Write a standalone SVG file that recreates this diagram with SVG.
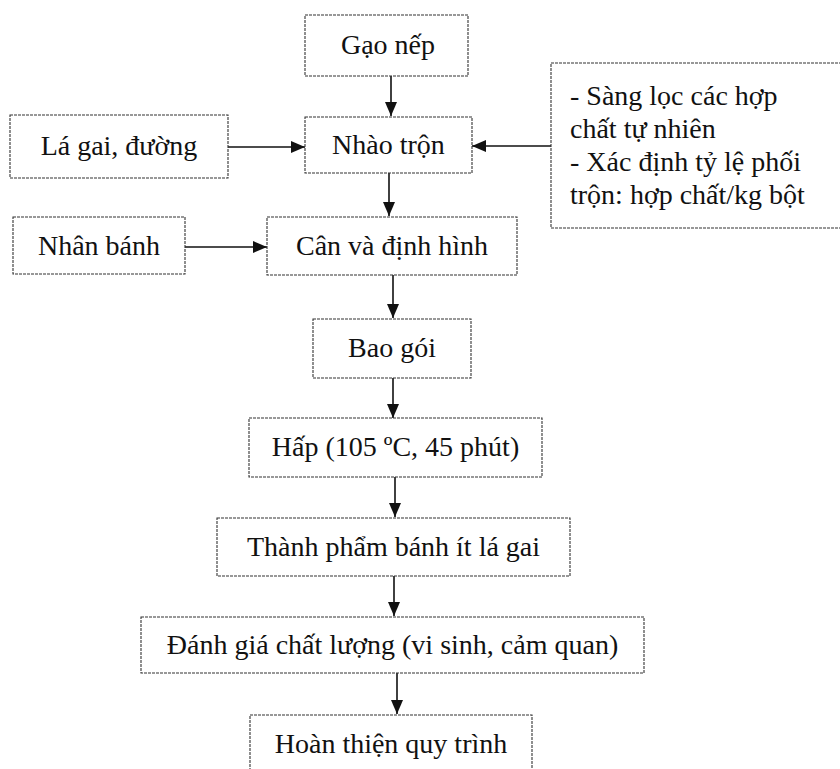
<svg xmlns="http://www.w3.org/2000/svg" width="840" height="769" viewBox="0 0 840 769">
<defs>
<marker id="ah" markerUnits="userSpaceOnUse" markerWidth="14" markerHeight="12" refX="14" refY="6" orient="auto">
<path d="M0,0 L14,6 L0,12 z" fill="#111"/>
</marker>
<style>
.box{fill:#fff;stroke:#333;stroke-width:1.1;stroke-dasharray:3 1}
.t{font-family:"Liberation Serif","Times New Roman",serif;font-size:28px;fill:#111;text-anchor:middle}
.tl{font-family:"Liberation Serif","Times New Roman",serif;font-size:28px;fill:#111}
.c{stroke:#111;stroke-width:1.6;fill:none;marker-end:url(#ah)}
</style>
</defs>
<rect width="840" height="769" fill="#fff"/>
<g id="connectors">
<line class="c" x1="391" y1="76" x2="391" y2="116"/>
<line class="c" x1="228" y1="147" x2="305" y2="147"/>
<line class="c" x1="551" y1="146" x2="472" y2="146"/>
<line class="c" x1="389" y1="173" x2="389" y2="216"/>
<line class="c" x1="185" y1="247" x2="267" y2="247"/>
<line class="c" x1="393" y1="275" x2="393" y2="318"/>
<line class="c" x1="393" y1="378" x2="393" y2="418"/>
<line class="c" x1="395" y1="477" x2="395" y2="517"/>
<line class="c" x1="394" y1="576" x2="394" y2="616"/>
<line class="c" x1="397" y1="673" x2="397" y2="714"/>
</g>
<g id="gao-nep"><rect class="box" x="305" y="15" width="163" height="61"/><text class="t" x="388" y="54">Gạo nếp</text></g>
<g id="nhao-tron"><rect class="box" x="305" y="117" width="167" height="56"/><text class="t" x="388.5" y="154">Nhào trộn</text></g>
<g id="la-gai"><rect class="box" x="10" y="115" width="218" height="63"/><text class="t" x="119" y="155">Lá gai, đường</text></g>
<g id="sang-loc"><rect class="box" x="551" y="63" width="295" height="165"/>
<text class="tl" x="570" y="105">- Sàng lọc các hợp</text>
<text class="tl" x="570" y="138">chất tự nhiên</text>
<text class="tl" x="570" y="171">- Xác định tỷ lệ phối</text>
<text class="tl" x="570" y="204">trộn: hợp chất/kg bột</text></g>
<g id="nhan-banh"><rect class="box" x="13" y="217" width="172" height="57"/><text class="t" x="99" y="255">Nhân bánh</text></g>
<g id="can-dinh-hinh"><rect class="box" x="267" y="217" width="250" height="58"/><text class="t" x="392" y="255">Cân và định hình</text></g>
<g id="bao-goi"><rect class="box" x="313" y="319" width="158" height="59"/><text class="t" x="392" y="357">Bao gói</text></g>
<g id="hap"><rect class="box" x="249" y="418" width="293" height="59"/><text class="t" x="395.5" y="456">Hấp (105 ºC, 45 phút)</text></g>
<g id="thanh-pham"><rect class="box" x="217" y="518" width="353" height="58"/><text class="t" x="393.5" y="556">Thành phẩm bánh ít lá gai</text></g>
<g id="danh-gia"><rect class="box" x="141" y="617" width="503" height="56"/><text class="t" x="392.5" y="654">Đánh giá chất lượng (vi sinh, cảm quan)</text></g>
<g id="hoan-thien"><rect class="box" x="250" y="715" width="282" height="60"/><text class="t" x="391" y="753">Hoàn thiện quy trình</text></g>
</svg>
